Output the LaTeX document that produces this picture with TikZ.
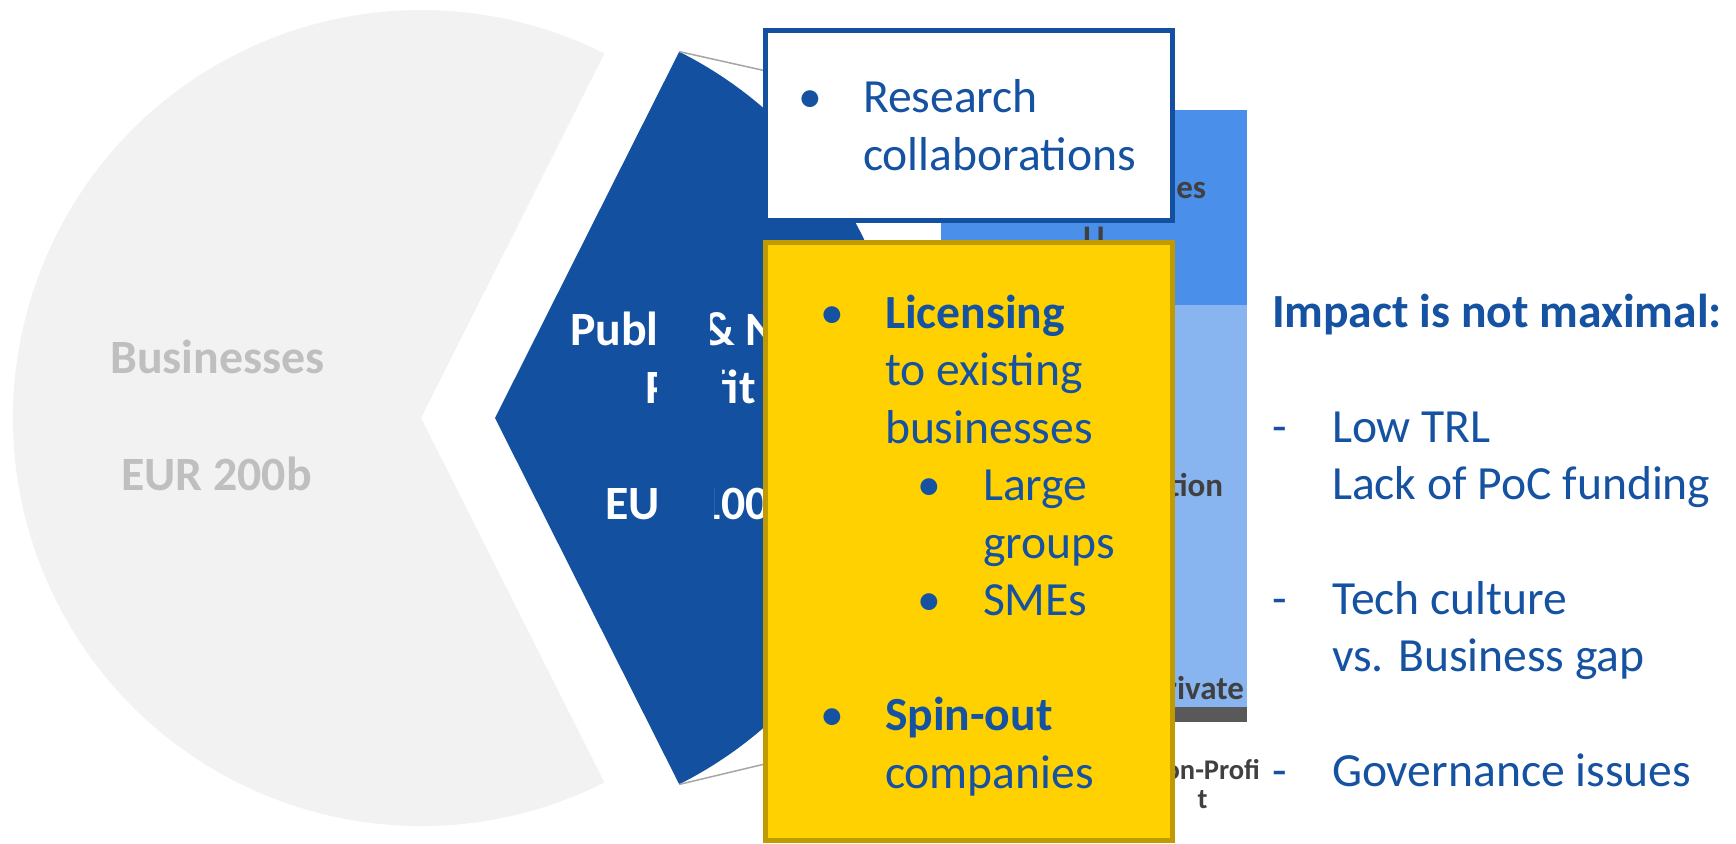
\documentclass[tikz,border=0pt]{standalone}
\usepackage{fontspec}
\setmainfont{Carlito}
\definecolor{pgrey}{HTML}{F2F2F2}
\definecolor{pgreytext}{HTML}{BFBFBF}
\definecolor{pblue}{HTML}{1450A0}
\definecolor{tblue}{HTML}{1552A1}
\definecolor{bartop}{HTML}{4A90EA}
\definecolor{barmid}{HTML}{88B4F0}
\definecolor{barbot}{HTML}{595959}
\definecolor{barlabel}{HTML}{404040}
\definecolor{ybox}{HTML}{FFD100}
\definecolor{yborder}{HTML}{BF9B00}
\definecolor{connline}{HTML}{A6A6A6}
\tikzset{
  txt/.style={inner sep=0pt, outer sep=0pt, anchor=base west, font=\fontsize{47.6}{56}\selectfont, text=tblue},
  btxt/.style={txt, font=\fontsize{47.6}{56}\selectfont\bfseries},
  bul/.style={inner sep=0pt, outer sep=0pt, anchor=base, font=\fontsize{47.6}{56}\selectfont, text=tblue},
  pielabel/.style={inner sep=0pt, outer sep=0pt, anchor=base west, font=\fontsize{47.8}{56}\selectfont\bfseries},
  barlbl/.style={inner sep=0pt, outer sep=0pt, font=\fontsize{33}{36}\selectfont\bfseries, text=barlabel},
  smallbarlbl/.style={barlbl, font=\fontsize{28.5}{31}\selectfont\bfseries},
  conn/.style={draw=connline, line width=1.5pt},
  wbox/.style={draw=pblue, fill=white, line width=5pt},
  yboxst/.style={draw=yborder, fill=ybox, line width=5pt}
}
\begin{document}
\begin{tikzpicture}[x=1pt,y=-1pt]
\path[use as bounding box, fill=white] (0,0) rectangle (1736,843);
% pie centres
\coordinate (gc) at (421,418);
\coordinate (bc) at (495,418);
\coordinate (btop) at (679.2,51.6);
\coordinate (bbot) at (679.2,784.4);
\coordinate (bartl) at (941,110);
\coordinate (barbl) at (941,722);
% grey pie
\fill[pgrey] (gc) -- ++(63.3:408) arc[start angle=63.3, end angle=296.7, radius=408] -- cycle;
\node[pielabel, text=pgreytext, anchor=base] (bus) at (217.5,373) {Businesses};
\node[pielabel, text=pgreytext, anchor=base] (bus2) at (216.5,490) {EUR 200b};
% blue slice
\fill[pblue] (bc) -- ++(-63.3:410) arc[start angle=-63.3, end angle=63.3, radius=410] -- cycle;
% connector lines
\draw[conn] (btop) -- (bartl);
\draw[conn] (bbot) -- (barbl);
% bar
\fill[bartop] (941,110) rectangle (1247,305);
\fill[barmid] (941,305) rectangle (1247,707);
\fill[barbot] (941,707) rectangle (1247,722);
\node[barlbl, anchor=base east] (bl1) at (1206,198) {Universities};
\node[barlbl, anchor=base] (bl1b) at (1094,248) {U};
\node[barlbl, anchor=base east] (bl2) at (1223,496) {Organisation};
\node[barlbl, anchor=base east] (bl3) at (1244,699) {Private};
\node[smallbarlbl, anchor=base east] (bl4) at (1260,779) {Non-Profi};
\node[smallbarlbl, anchor=base] (bl4b) at (1202.5,808) {t};
% blue slice label
\node[pielabel, text=white] (pl1) at (570,345) {Public \& Non-};
\node[pielabel, text=white] (pl2) at (645,403) {Profit};
\node[pielabel, text=white] (pl3) at (605,519) {EUR 100b};
\fill[pblue] (657,305) -- (710,305) -- (710,362) -- (722,362) -- (722,410) -- (714,410) -- (714,530) -- (657,530) -- cycle;
% white box
\draw[wbox] (765.5,30.5) rectangle (1172.5,220.5);
\node[bul] (wb1) at (810,112) {•};
\node[txt] (wt1) at (863,112) {Research};
\node[txt] (wt2) at (863,170) {collaborations};
% yellow box
\draw[yboxst] (765.5,242.5) rectangle (1172.5,840.5);
\node[bul] (yb1) at (832,328) {•};
\node[btxt] (yt1) at (885,328) {Licensing};
\node[txt] (yt2) at (885,385.5) {to existing};
\node[txt] (yt3) at (885,443) {businesses};
\node[bul] (yb2) at (929,500.5) {•};
\node[txt] (yt4) at (983,500.5) {Large};
\node[txt] (yt5) at (983,558) {groups};
\node[bul] (yb3) at (929,615.5) {•};
\node[txt] (yt6) at (983,615.5) {SMEs};
\node[bul] (yb4) at (832,730.5) {•};
\node[btxt] (yt7) at (885,730.5) {Spin-out};
\node[txt] (yt8) at (885,788) {companies};
% right text
\node[btxt] (rt0) at (1272,327) {Impact is not maximal:};
\node[txt] (rd1) at (1272,442) {-};
\node[txt] (rt1) at (1332,442) {Low TRL};
\node[txt] (rt2) at (1332,499) {Lack of PoC funding};
\node[txt] (rd2) at (1272,614) {-};
\node[txt] (rt3) at (1332,614) {Tech culture};
\node[txt] (rt4) at (1332,671) {vs. Business gap};
\node[txt] (rd3) at (1272,786) {-};
\node[txt] (rt5) at (1332,786) {Governance issues};
\end{tikzpicture}
\end{document}
